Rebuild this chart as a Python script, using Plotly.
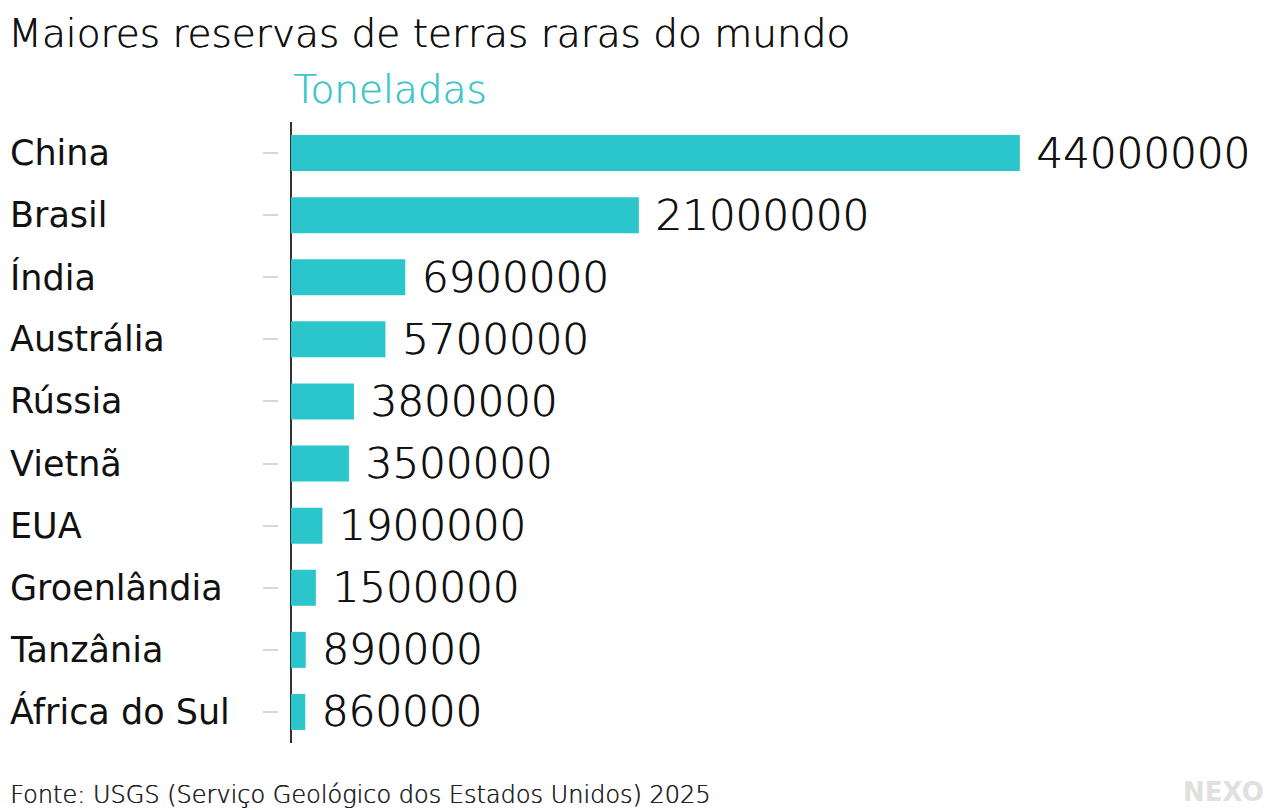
import plotly.graph_objects as go

countries = ["China", "Brasil", "Índia", "Austrália", "Rússia", "Vietnã", "EUA",
             "Groenlândia", "Tanzânia", "África do Sul"]
reserves = [44000000, 21000000, 6900000, 5700000, 3800000, 3500000, 1900000,
            1500000, 890000, 860000]

title_text = "Maiores reservas de terras raras do mundo"
unit_text = "Toneladas"
source_text = "Fonte: USGS (Serviço Geológico dos Estados Unidos) 2025"
brand_text = "NEXO"

# page has an 8px body margin; the figure sits at (8, 8)
OFF = 8
W, H = 1280 - OFF, 810 - OFF
L, R, T, B = 0, 20, 114, 67
pw, ph = W - L - R, H - T - B


def px_x(sx):
    return (sx - OFF - L) / pw


def px_y(sy):
    return (H - B - (sy - OFF)) / ph


FONT = "DejaVu Sans"
BAR = "#2ac6cb"

fig = go.Figure()
fig.add_trace(go.Bar(
    x=reserves, y=countries, orientation="h",
    marker=dict(color=BAR, line=dict(width=0)),
    text=["\u00a0" + str(v) for v in reserves],
    textposition="outside", constraintext="none", cliponaxis=False,
    textfont=dict(family=FONT, size=42, color="#111111", weight=200,
                  shadow="0.7px 0 0 #111111"),
    hoverinfo="skip",
))

annotations = []
for c in countries:
    annotations.append(dict(
        x=px_x(8), xref="paper", y=c, yref="y", text=c, showarrow=False,
        xanchor="left", yanchor="middle",
        font=dict(family=FONT, size=35, color="#111111", weight=400),
    ))
annotations.append(dict(
    x=px_x(291), xref="paper", y=px_y(89), yref="paper", text=unit_text,
    showarrow=False, xanchor="left", yanchor="middle",
    font=dict(family=FONT, size=39, color="#3fc6ca", weight=200,
              shadow="0.5px 0 0 #3fc6ca"),
))
annotations.append(dict(
    x=px_x(8), xref="paper", y=px_y(795), yref="paper", text=source_text,
    showarrow=False, xanchor="left", yanchor="middle",
    font=dict(family=FONT, size=24, color="#222222", weight=200,
              shadow="0.4px 0 0 #222222"),
))
annotations.append(dict(
    x=px_x(1266), xref="paper", y=px_y(792), yref="paper", text=brand_text,
    showarrow=False, xanchor="right", yanchor="middle",
    font=dict(family=FONT, size=26, color="#e0e0e0", weight=700),
))

fig.update_layout(
    width=W, height=H,
    margin=dict(l=L, r=R, t=T, b=B, pad=0),
    paper_bgcolor="white", plot_bgcolor="white",
    showlegend=False,
    bargap=0.42,
    title=dict(text=title_text, x=px_x(8), xref="paper", xanchor="left",
               y=1 - (33 - OFF) / H, yref="container", yanchor="middle",
               font=dict(family=FONT, size=39, color="#111111", weight=200,
                         shadow="0.5px 0 0 #111111")),
    xaxis=dict(domain=[px_x(291), 1], range=[0, 58.5e6], showgrid=False,
               showticklabels=False, ticks="", showline=False,
               zeroline=True, zerolinecolor="#333333", zerolinewidth=2,
               fixedrange=True),
    yaxis=dict(anchor="free", position=px_x(262), autorange="reversed",
               showticklabels=False, showgrid=False, showline=False,
               ticks="inside", ticklen=15, tickwidth=1.5, tickcolor="#d8d8d8",
               zeroline=False, fixedrange=True),
    annotations=annotations,
)

fig.write_html("out.html")
